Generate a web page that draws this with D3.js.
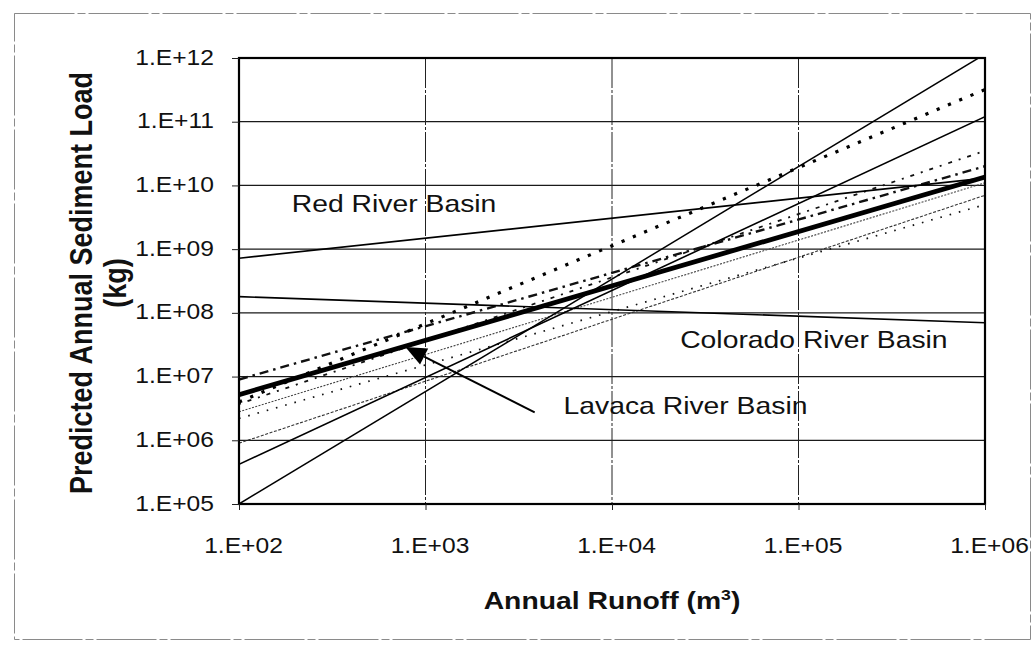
<!DOCTYPE html>
<html>
<head>
<meta charset="utf-8">
<script src="https://cdn.jsdelivr.net/npm/d3@7"></script>
<style>
  html, body { margin: 0; padding: 0; background: #fff; }
  svg { display: block; }
  text { font-family: "Liberation Sans", Arial, sans-serif; fill: #111; }
</style>
</head>
<body>
<svg id="chart" width="1036" height="648"></svg>
<script>
// Runoff range covered by every rating line (m^3)
const runoffEnds = [1e2, 1e6];

// Predicted load (kg) at each end of the runoff range
const loadSteepA     = [1.0e5, 1.15e12];
const loadSteepB     = [4.2e5, 1.2e11];
const loadRedRiver   = [7.2e8, 1.3e10];
const loadColorado   = [1.8e8, 7.0e7];
const loadLavaca     = [5.2e6, 1.35e10];
const loadBigDot     = [4.0e6, 3.2e11];
const loadDashDot    = [9.0e6, 2.0e10];
const loadSparseDash = [3.7e6, 3.5e10];
const loadFineA      = [2.8e6, 1.1e10];
const loadFineB      = [9.0e5, 7.0e9];
const loadSparseDot  = [2.2e6, 5.0e9];

// Axis ticks
const xTicks = [1e2, 1e3, 1e4, 1e5, 1e6];
const yTicks = [1e5, 1e6, 1e7, 1e8, 1e9, 1e10, 1e11, 1e12];

// Basin labels
const basinLabels = ["Red River Basin", "Colorado River Basin", "Lavaca River Basin"];

// ---- layout ----
const plot = { left: 239, right: 985, top: 58, bottom: 504 };
const SX = 1.18;  // horizontal stretch of all lettering

const svg = d3.select("#chart");

const x = d3.scaleLog().domain([1e2, 1e6]).range([plot.left, plot.right]);
const y = d3.scaleLog().domain([1e5, 1e12]).range([plot.bottom, plot.top]);

const fmt = d => "1.E+" + String(Math.round(Math.log10(d))).padStart(2, "0");

// outer frame
svg.append("rect")
  .attr("x", 14.5).attr("y", 13.5)
  .attr("width", 1016).attr("height", 626)
  .attr("fill", "none")
  .attr("stroke", "#8a8a8a")
  .attr("stroke-width", 1)
  .attr("stroke-dasharray", "60,3,8,3");

// gridlines
const grid = svg.append("g");
grid.selectAll("line.h").data(yTicks).join("line")
  .attr("class", "h")
  .attr("x1", plot.left).attr("x2", plot.right)
  .attr("y1", d => y(d)).attr("y2", d => y(d))
  .attr("stroke", "#1a1a1a").attr("stroke-width", 1.2);
grid.selectAll("line.v").data(xTicks).join("line")
  .attr("class", "v")
  .attr("x1", d => x(d)).attr("x2", d => x(d))
  .attr("y1", plot.top).attr("y2", plot.bottom)
  .attr("stroke", "#222").attr("stroke-width", 1)
  .attr("stroke-dasharray", "30,2,3,2");

// rating lines
const series = [
  { load: loadFineB,      stroke: "#333", width: 1.1, dash: "3,1.6" },
  { load: loadSparseDot,  stroke: "#111", width: 1.7, dash: "1.6,8" },
  { load: loadFineA,      stroke: "#444", width: 1.1, dash: "2,1.4" },
  { load: loadSparseDash, stroke: "#111", width: 1.8, dash: "2,7,4,7" },
  { load: loadDashDot,    stroke: "#111", width: 2.4, dash: "9,5,2.5,5" },
  { load: loadBigDot,     stroke: "#000", width: 3.2, dash: "3.2,9" },
  { load: loadColorado,   stroke: "#000", width: 1.6, dash: null },
  { load: loadRedRiver,   stroke: "#000", width: 1.6, dash: null },
  { load: loadSteepB,     stroke: "#000", width: 1.6, dash: null },
  { load: loadSteepA,     stroke: "#000", width: 1.5, dash: null },
  { load: loadLavaca,     stroke: "#000", width: 4.8, dash: null }
];

svg.append("clipPath").attr("id", "plotClip")
  .append("rect")
  .attr("x", plot.left).attr("y", plot.top)
  .attr("width", plot.right - plot.left).attr("height", plot.bottom - plot.top);

const line = d3.line().x(d => x(d[0])).y(d => y(d[1]));

svg.append("g").attr("clip-path", "url(#plotClip)")
  .selectAll("path").data(series).join("path")
  .attr("d", s => line(runoffEnds.map((q, i) => [q, s.load[i]])))
  .attr("fill", "none")
  .attr("stroke", s => s.stroke)
  .attr("stroke-width", s => s.width)
  .attr("stroke-dasharray", s => s.dash);

// plot border
svg.append("rect")
  .attr("x", plot.left).attr("y", plot.top)
  .attr("width", plot.right - plot.left).attr("height", plot.bottom - plot.top)
  .attr("fill", "none").attr("stroke", "#000").attr("stroke-width", 2.2);

// axes
const yAxis = svg.append("g")
  .attr("transform", `translate(${plot.left},0)`)
  .call(d3.axisLeft(y).tickValues(yTicks).tickFormat(fmt).tickSize(7).tickSizeOuter(0));
yAxis.select(".domain").remove();
yAxis.selectAll("line").attr("stroke", "#222");
yAxis.selectAll("text")
  .attr("x", 0).attr("dy", null)
  .attr("transform", `translate(-25,6) scale(1.12,1)`)
  .attr("text-anchor", "end")
  .style("font-size", "22px")
  .style("font-family", "'Liberation Sans', Arial, sans-serif")
  .attr("fill", "#111");

const xAxis = svg.append("g")
  .attr("transform", `translate(0,${plot.bottom})`)
  .call(d3.axisBottom(x).tickValues(xTicks).tickFormat(fmt).tickSize(6).tickSizeOuter(0));
xAxis.select(".domain").remove();
xAxis.selectAll("line").attr("stroke", "#222");
xAxis.selectAll("text")
  .attr("y", 0).attr("dy", null)
  .attr("transform", `translate(4,49) scale(1.12,1)`)
  .attr("text-anchor", "middle")
  .style("font-size", "22px")
  .style("font-family", "'Liberation Sans', Arial, sans-serif")
  .attr("fill", "#111");

// stretched text helper
function label(px, py, str, opts = {}) {
  const t = svg.append("text")
    .attr("transform", `translate(${px},${py}) rotate(${opts.rotate || 0}) scale(${opts.rotate ? 1 : SX},${opts.rotate ? SX : 1})`)
    .attr("text-anchor", opts.anchor || "start")
    .style("font-size", (opts.size || 24) + "px")
    .style("font-weight", opts.bold ? "bold" : "normal");
  t.text(str);
  return t;
}

// axis titles
const xt = label(612, 609, "", { anchor: "middle", bold: true, size: 24 });
xt.append("tspan").text("Annual Runoff (m");
xt.append("tspan").text("3").attr("dy", -9).style("font-size", "15px");
xt.append("tspan").text(")").attr("dy", 9);

label(92, 283, "Predicted Annual Sediment Load", { anchor: "middle", bold: true, size: 27, rotate: -90 });
label(126, 283, "(kg)", { anchor: "middle", bold: true, size: 27, rotate: -90 });

// basin labels, anchored in data units
const labelAt = [
  { q: 1.92e2, load: 3.8e9 },
  { q: 2.32e4, load: 2.8e7 },
  { q: 5.5e3, load: 2.6e6 }
];
basinLabels.forEach((name, i) => {
  label(x(labelAt[i].q), y(labelAt[i].load), name, { size: 24 });
});

// arrow to the Lavaca line
const arrowFrom = [3.85e3, 2.75e6];
const arrowTo = [7.8e2, 2.9e7];
const ax0 = x(arrowFrom[0]), ay0 = y(arrowFrom[1]);
const ax1 = x(arrowTo[0]), ay1 = y(arrowTo[1]);
const ang = Math.atan2(ay1 - ay0, ax1 - ax0);
const headLen = 21, headHalf = 9;
const bx = ax1 - headLen * Math.cos(ang), by = ay1 - headLen * Math.sin(ang);
svg.append("line")
  .attr("x1", ax0).attr("y1", ay0).attr("x2", bx).attr("y2", by)
  .attr("stroke", "#000").attr("stroke-width", 2);
svg.append("path")
  .attr("d", `M${ax1},${ay1} L${bx - headHalf * Math.sin(ang)},${by + headHalf * Math.cos(ang)} L${bx + headHalf * Math.sin(ang)},${by - headHalf * Math.cos(ang)} Z`)
  .attr("fill", "#000");
</script>
</body>
</html>
